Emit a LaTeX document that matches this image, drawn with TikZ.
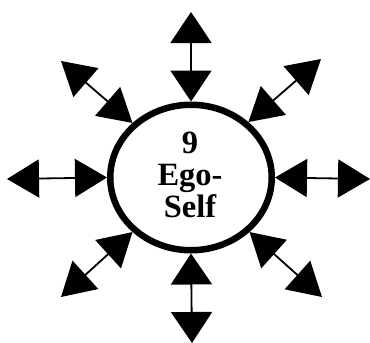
\documentclass[tikz,border=0pt]{standalone}
\usepackage{fontspec}
\setmainfont{Liberation Serif}
\usetikzlibrary{arrows.meta,shapes.geometric}
\begin{document}
\begin{tikzpicture}[x=1pt,y=-1pt,
  ego/.style={draw=black,line width=6.5pt,ellipse,minimum width=161.5pt,minimum height=145.5pt,inner sep=0pt},
  label/.style={font=\fontsize{32.5}{32}\selectfont\bfseries,align=center},
  dblv/.style={line width=1.8pt,{Triangle[length=31pt,width=41pt]}-{Triangle[length=31pt,width=41pt]}},
  dblh/.style={line width=1.8pt,{Triangle[length=32pt,width=38pt]}-{Triangle[length=32pt,width=38pt]}},
  dbld/.style={line width=1.8pt,{Triangle[length=33pt,width=38pt]}-{Triangle[length=33pt,width=38pt]}}]
\useasboundingbox (0,0) rectangle (370,343);
\node[ego] (c) at (191,177.5) {};
\node[label] (txt) at (190,175) {9\\Ego-\\Self};
\coordinate (t) at (191,12);
\coordinate (b) at (192,343);
\coordinate (l) at (7,179);
\coordinate (r) at (370,179);
\coordinate (ul) at (61,61);
\coordinate (ur) at (321,59);
\coordinate (ll) at (61,297);
\coordinate (lr) at (322,297);
\draw[dblv] (c.north) -- (t);
\draw[dblv] (c.south) -- (b);
\draw[dblh] (c.west) -- (l);
\draw[dblh] (c.east) -- (r);
\draw[dbld] (c.137) -- (ul);
\draw[dbld] (c.44) -- (ur);
\draw[dbld] (c.223) -- (ll);
\draw[dbld] (c.317) -- (lr);
\end{tikzpicture}
\end{document}
